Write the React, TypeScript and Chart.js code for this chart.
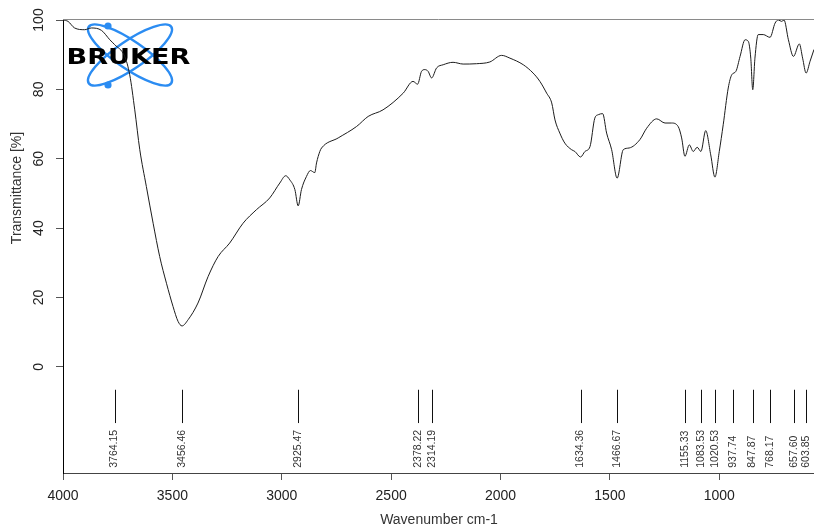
import React, { useEffect, useRef } from "react";
import { Chart, registerables } from "chart.js";

Chart.register(...registerables);

// ---- Data ----
const wavenumbers = [
  4000, 3977, 3947, 3901, 3870, 3824, 3786, 3764, 3718, 3695, 3672, 3649, 3619, 3588, 3558, 3527,
  3497, 3474, 3456, 3428, 3383, 3337, 3291, 3238, 3177, 3116, 3055, 3009, 2982, 2963, 2940, 2925,
  2910, 2887, 2869, 2849, 2841, 2826, 2818, 2742, 2658, 2605, 2537, 2445, 2400, 2379, 2361, 2346,
  2331, 2315, 2292, 2262, 2217, 2171, 2110, 2049, 1995, 1957, 1896, 1851, 1820, 1789, 1766, 1751,
  1729, 1706, 1675, 1660, 1634, 1614, 1591, 1569, 1553, 1533, 1515, 1492, 1467, 1439, 1412, 1363,
  1332, 1286, 1248, 1218, 1188, 1172, 1157, 1137, 1119, 1101, 1084, 1062, 1039, 1020, 1000, 982,
  959, 943, 924, 905, 882, 867, 856, 847, 837, 822, 799, 768, 745, 730, 715, 704, 684, 661, 634,
  619, 603, 585, 567,
];
const transmittance = [
  100, 99.6, 97.7, 97.2, 97.7, 97.0, 94.3, 92.9, 89.5, 84.2, 74.1, 62.6, 52.0, 41.4, 31.8, 24.1,
  17.4, 13.1, 11.8, 13.6, 18.4, 26.0, 31.8, 35.7, 41.4, 45.3, 48.7, 53.0, 55.1, 53.9, 51.1, 46.4,
  51.1, 54.9, 56.6, 56.0, 58.8, 62.1, 63.1, 66.0, 69.3, 72.2, 74.1, 78.9, 82.3, 81.5, 85.2, 85.7,
  85.2, 83.3, 86.2, 87.1, 87.8, 87.3, 87.4, 87.9, 89.8, 89.0, 87.1, 84.7, 82.3, 78.9, 76.1, 71.2,
  67.4, 64.5, 62.6, 62.1, 60.5, 62.1, 63.5, 71.7, 72.7, 73.0, 67.4, 62.6, 54.4, 62.6, 63.1, 65.5,
  68.8, 71.5, 70.3, 70.3, 69.3, 66.0, 60.7, 64.0, 62.1, 63.3, 62.1, 68.1, 61.1, 54.7, 62.1, 69.8,
  80.4, 84.2, 85.2, 89.5, 94.3, 93.8, 89.0, 79.9, 89.0, 95.8, 95.8, 95.0, 99.1, 100, 99.6, 100, 94.3, 89.5, 93.1,
  89.0, 84.7, 88.1, 91.5,
];
const peakPositions = [
  3764.15, 3456.46, 2925.47, 2378.22, 2314.19, 1634.36, 1466.67, 1155.33, 1083.53, 1020.53, 937.74,
  847.87, 768.17, 657.6, 603.85,
];
const peakLabels = peakPositions.map((p) => p.toFixed(2));
const xTickValues = [4000, 3500, 3000, 2500, 2000, 1500, 1000];
const yTickValues = [0, 20, 40, 60, 80, 100];
const xTitle = "Wavenumber cm-1";
const yTitle = "Transmittance [%]";
const logoText = "BRUKER";

const FONT = "'Liberation Sans', Arial, sans-serif";

const overlayPlugin = {
  id: "overlay",
  beforeDatasetsDraw(chart: any) {
    const ctx = chart.ctx as CanvasRenderingContext2D;
    const area = chart.chartArea;
    ctx.save();
    // top frame line
    ctx.strokeStyle = "#8a8a8a";
    ctx.lineWidth = 1;
    ctx.beginPath();
    ctx.moveTo(area.left, Math.round(area.top) - 0.5);
    ctx.lineTo(area.right, Math.round(area.top) - 0.5);
    ctx.stroke();

    // logo: orbits
    const cx = 130;
    const cy = 55;
    ctx.strokeStyle = "#2b8cf2";
    ctx.lineWidth = 2.4;
    [0.6, -0.6].forEach((rot) => {
      ctx.beginPath();
      ctx.ellipse(cx, cy, 50, 14, rot, 0, Math.PI * 2);
      ctx.stroke();
    });
    ctx.fillStyle = "#2b8cf2";
    [
      [108, 26],
      [108, 85],
    ].forEach(([x, y]) => {
      ctx.beginPath();
      ctx.arc(x, y, 3.6, 0, Math.PI * 2);
      ctx.fill();
    });
    // logo: text
    ctx.font = `bold 22px 'DejaVu Sans', ${FONT}`;
    ctx.textBaseline = "alphabetic";
    ctx.textAlign = "left";
    const w = ctx.measureText(logoText).width;
    ctx.translate(66.5, 64);
    ctx.scale(124 / w, 1);
    ctx.fillStyle = "#000";
    ctx.fillText(logoText, 0, 0);
    ctx.restore();
  },
  afterDraw(chart: any) {
    const ctx = chart.ctx as CanvasRenderingContext2D;
    const xs = chart.scales.x;
    const ys = chart.scales.y;
    ctx.save();
    // y tick labels, rotated
    ctx.fillStyle = "#222";
    ctx.font = `14px ${FONT}`;
    ctx.textAlign = "center";
    ctx.textBaseline = "middle";
    yTickValues.forEach((v) => {
      const y = ys.getPixelForValue(v);
      ctx.save();
      ctx.translate(39.5, y);
      ctx.rotate(-Math.PI / 2);
      ctx.fillText(String(v), 0, 0);
      ctx.restore();
    });
    // axis titles
    ctx.fillStyle = "#333";
    ctx.save();
    ctx.translate(17.5, 188);
    ctx.rotate(-Math.PI / 2);
    ctx.fillText(yTitle, 0, 0);
    ctx.restore();
    ctx.fillText(xTitle, 439, 520);

    // peak markers
    const lineTop = ys.getPixelForValue(-6.6);
    const lineBottom = ys.getPixelForValue(-16.2);
    const labelBase = ys.getPixelForValue(-29.1);
    ctx.strokeStyle = "#111";
    ctx.lineWidth = 1;
    ctx.font = `10.5px ${FONT}`;
    ctx.fillStyle = "#333";
    ctx.textAlign = "left";
    ctx.textBaseline = "middle";
    peakPositions.forEach((p, i) => {
      const x = xs.getPixelForValue(p);
      const px = Math.round(x) + 0.5;
      ctx.beginPath();
      ctx.moveTo(px, lineTop);
      ctx.lineTo(px, lineBottom);
      ctx.stroke();
      ctx.save();
      ctx.translate(x, labelBase);
      ctx.rotate(-Math.PI / 2);
      ctx.fillText(peakLabels[i], 0, 0);
      ctx.restore();
    });
    ctx.restore();
  },
};

export default function App() {
  const canvasRef = useRef<HTMLCanvasElement | null>(null);

  useEffect(() => {
    document.body.style.margin = "0";
    const canvas = canvasRef.current;
    if (!canvas) return;
    const chart = new Chart(canvas, {
      type: "line",
      data: {
        datasets: [
          {
            data: wavenumbers.map((w, i) => ({ x: w, y: transmittance[i] })),
            borderColor: "#1c1c1c",
            borderWidth: 1,
            pointRadius: 0,
            fill: false,
            cubicInterpolationMode: "monotone",
          },
        ],
      },
      options: {
        responsive: false,
        animation: false,
        events: [],
        layout: { padding: { top: 20, right: 0, left: 0, bottom: 0 } },
        plugins: {
          legend: { display: false },
          tooltip: { enabled: false },
          title: { display: false },
        },
        scales: {
          x: {
            type: "linear",
            reverse: true,
            min: 567,
            max: 4000,
            afterBuildTicks: (scale: any) => {
              scale.ticks = xTickValues.map((v) => ({ value: v }));
            },
            afterFit: (scale: any) => {
              scale.height = 58;
            },
            grid: { drawOnChartArea: false, drawTicks: true, tickLength: 7, color: "#555" },
            border: { display: true, color: "#444", width: 1 },
            ticks: {
              autoSkip: false,
              maxRotation: 0,
              minRotation: 0,
              padding: 8,
              color: "#222",
              font: { size: 14, family: FONT },
              callback: (v: any) => String(v),
            },
          },
          y: {
            type: "linear",
            min: -30.6,
            max: 100,
            afterBuildTicks: (scale: any) => {
              scale.ticks = yTickValues.map((v) => ({ value: v }));
            },
            afterFit: (scale: any) => {
              scale.width = 63;
            },
            grid: { drawOnChartArea: false, drawTicks: true, tickLength: 7, color: "#555" },
            border: { display: true, color: "#000", width: 1 },
            ticks: { display: false },
          },
        },
      },
      plugins: [overlayPlugin],
    } as any);
    return () => chart.destroy();
  }, []);

  return (
    <div style={{ width: 814, height: 531, position: "relative", background: "#fff" }}>
      <canvas ref={canvasRef} width={814} height={531} style={{ display: "block" }} />
    </div>
  );
}
